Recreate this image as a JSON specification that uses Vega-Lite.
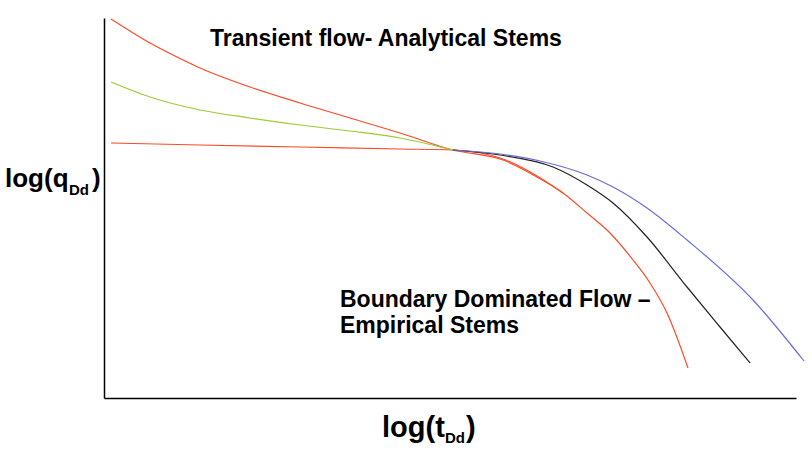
{
  "$schema": "https://vega.github.io/schema/vega-lite/v6.json",
  "width": 692,
  "height": 380,
  "autosize": {"type": "none"},
  "padding": {"left": 104, "top": 18, "right": 16, "bottom": 52},
  "background": "white",
  "config": {"view": {"stroke": null}, "font": "Liberation Sans"},
  "datasets": {
    "curves": [
      {"s": "r1", "i": 0, "t": 7, "q": 379}, {"s": "r1", "i": 1, "t": 26, "q": 367}, {"s": "r1", "i": 2, "t": 46, "q": 355},
      {"s": "r1", "i": 3, "t": 71, "q": 342}, {"s": "r1", "i": 4, "t": 96, "q": 330}, {"s": "r1", "i": 5, "t": 146, "q": 311},
      {"s": "r1", "i": 6, "t": 196, "q": 295}, {"s": "r1", "i": 7, "t": 246, "q": 280}, {"s": "r1", "i": 8, "t": 296, "q": 265},
      {"s": "r1", "i": 9, "t": 349, "q": 248}, {"s": "r1", "i": 10, "t": 399, "q": 238}, {"s": "r1", "i": 11, "t": 433, "q": 221},
      {"s": "r1", "i": 12, "t": 459, "q": 205}, {"s": "r1", "i": 13, "t": 483, "q": 185}, {"s": "r1", "i": 14, "t": 506, "q": 165},
      {"s": "r1", "i": 15, "t": 529, "q": 138}, {"s": "r1", "i": 16, "t": 546, "q": 115}, {"s": "r1", "i": 17, "t": 563, "q": 85},
      {"s": "r1", "i": 18, "t": 584, "q": 30},
      {"s": "r2", "i": 0, "t": 7, "q": 255}, {"s": "r2", "i": 1, "t": 96, "q": 253}, {"s": "r2", "i": 2, "t": 196, "q": 251},
      {"s": "r2", "i": 3, "t": 296, "q": 249}, {"s": "r2", "i": 4, "t": 349, "q": 248}, {"s": "r2", "i": 5, "t": 399, "q": 239},
      {"s": "r2", "i": 6, "t": 433, "q": 222}, {"s": "r2", "i": 7, "t": 459, "q": 205},
      {"s": "g", "i": 0, "t": 7, "q": 316}, {"s": "g", "i": 1, "t": 46, "q": 301}, {"s": "g", "i": 2, "t": 96, "q": 288},
      {"s": "g", "i": 3, "t": 146, "q": 280}, {"s": "g", "i": 4, "t": 196, "q": 273}, {"s": "g", "i": 5, "t": 246, "q": 267},
      {"s": "g", "i": 6, "t": 296, "q": 260}, {"s": "g", "i": 7, "t": 349, "q": 248},
      {"s": "k", "i": 0, "t": 349, "q": 248}, {"s": "k", "i": 1, "t": 396, "q": 243}, {"s": "k", "i": 2, "t": 449, "q": 231},
      {"s": "k", "i": 3, "t": 483, "q": 213}, {"s": "k", "i": 4, "t": 509, "q": 195}, {"s": "k", "i": 5, "t": 543, "q": 161},
      {"s": "k", "i": 6, "t": 583, "q": 111}, {"s": "k", "i": 7, "t": 616, "q": 71}, {"s": "k", "i": 8, "t": 646, "q": 35},
      {"s": "b", "i": 0, "t": 349, "q": 248}, {"s": "b", "i": 1, "t": 396, "q": 244}, {"s": "b", "i": 2, "t": 436, "q": 237},
      {"s": "b", "i": 3, "t": 483, "q": 223}, {"s": "b", "i": 4, "t": 509, "q": 211}, {"s": "b", "i": 5, "t": 543, "q": 190},
      {"s": "b", "i": 6, "t": 583, "q": 158}, {"s": "b", "i": 7, "t": 649, "q": 98}, {"s": "b", "i": 8, "t": 700, "q": 37}
    ],
    "labels": [
      {"label": "Transient flow- Analytical Stems", "t": 106, "q": 352},
      {"label": "Boundary Dominated Flow –", "t": 236, "q": 91},
      {"label": "Empirical Stems", "t": 236, "q": 65}
    ],
    "yTitle": [
      {"label": "log(q", "t": -99, "q": 211},
      {"label": ")", "t": -12, "q": 211}
    ],
    "xTitle": [
      {"label": "log(t", "t": 278, "q": -39},
      {"label": ")", "t": 362, "q": -39}
    ],
    "subs": [
      {"label": "Dd", "t": -35, "q": 203},
      {"label": "Dd", "t": 341, "q": -45}
    ]
  },
  "layer": [
    {
      "data": {"name": "curves"},
      "mark": {"type": "line", "strokeWidth": 1.2, "interpolate": "monotone", "clip": false},
      "encoding": {
        "x": {"field": "t", "type": "quantitative", "scale": {"domain": [0, 692], "nice": false, "zero": false},
              "axis": {"title": null, "labels": false, "ticks": false, "grid": false, "domainColor": "black", "domainWidth": 1.5}},
        "y": {"field": "q", "type": "quantitative", "scale": {"domain": [0, 380], "nice": false, "zero": false},
              "axis": {"title": null, "labels": false, "ticks": false, "grid": false, "domainColor": "black", "domainWidth": 1.5}},
        "color": {"field": "s", "type": "nominal", "legend": null,
                  "scale": {"domain": ["r1", "r2", "g", "k", "b"], "range": ["#ff4a26", "#ff4a26", "#9acd32", "#222222", "#6b6bdc"]}},
        "detail": {"field": "s"},
        "order": {"field": "i", "type": "quantitative"}
      }
    },
    {
      "data": {"name": "labels"},
      "mark": {"type": "text", "align": "left", "baseline": "alphabetic", "fontSize": 23, "fontWeight": "bold", "color": "black"},
      "encoding": {
        "x": {"field": "t", "type": "quantitative"},
        "y": {"field": "q", "type": "quantitative"},
        "text": {"field": "label"}
      }
    },
    {
      "data": {"name": "yTitle"},
      "mark": {"type": "text", "align": "left", "baseline": "alphabetic", "fontSize": 26, "fontWeight": "bold", "color": "black"},
      "encoding": {
        "x": {"field": "t", "type": "quantitative"},
        "y": {"field": "q", "type": "quantitative"},
        "text": {"field": "label"}
      }
    },
    {
      "data": {"name": "xTitle"},
      "mark": {"type": "text", "align": "left", "baseline": "alphabetic", "fontSize": 29, "fontWeight": "bold", "color": "black"},
      "encoding": {
        "x": {"field": "t", "type": "quantitative"},
        "y": {"field": "q", "type": "quantitative"},
        "text": {"field": "label"}
      }
    },
    {
      "data": {"name": "subs"},
      "mark": {"type": "text", "align": "left", "baseline": "alphabetic", "fontSize": 15, "fontWeight": "bold", "color": "black"},
      "encoding": {
        "x": {"field": "t", "type": "quantitative"},
        "y": {"field": "q", "type": "quantitative"},
        "text": {"field": "label"}
      }
    }
  ]
}
